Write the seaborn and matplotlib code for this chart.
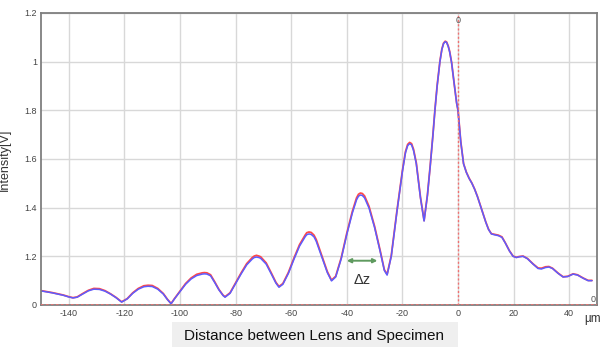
import matplotlib
matplotlib.use("Agg")
import matplotlib.pyplot as plt
import seaborn as sns
import pandas as pd

# Axial scan of the lens-to-specimen distance (µm) and the detector intensity (V)
distance_um = [
    -150, -146, -142, -140, -138.5, -137, -135, -133, -131, -129, -127, -125, -123, -121,
    -119, -117, -115, -113, -111.5, -110, -108, -106, -104.5, -103.2,
    -102, -100, -98, -96, -94, -92, -91.2, -90.3, -89, -87.5, -86, -84.5, -83.8,
    -82, -80, -78, -76, -74, -73.3, -72.5, -71.6, -71, -69, -67, -65.5, -64.4,
    -63, -61, -59, -57, -55, -54.4, -53.6, -52.8, -51.8, -51, -49, -47, -45.5,
    -44, -42, -40, -38, -36.5, -35.8, -35.1, -34.4, -33.6, -32, -30, -28, -26.5, -25.5,
    -24, -22, -20, -18.9, -18.1, -17.4, -16.7, -16, -15, -13.5, -12.2,
    -11, -10, -9, -8.3, -7.5, -6.5, -5.8, -5.2, -4.6, -4.1, -3.5, -3, -2.3, -1.5, -0.5, 0,
    1, 2, 3, 4, 5, 6, 7, 8, 9, 10, 11, 12, 13.3, 14.5, 15.8, 17, 18.5, 19.8,
    21, 22, 23.4, 25, 27, 28.8, 30, 31.5, 32.7, 34, 36, 37.8, 39.5, 41.4, 43, 45, 46.8, 48.2,
]
intensity_blue = [
    0.058, 0.050, 0.040, 0.033, 0.029, 0.032, 0.045, 0.058, 0.065, 0.064, 0.057, 0.045, 0.030, 0.012,
    0.025, 0.048, 0.065, 0.075, 0.077, 0.076, 0.065, 0.045, 0.022, 0.005,
    0.025, 0.055, 0.085, 0.107, 0.121, 0.127, 0.128, 0.127, 0.120, 0.092, 0.062, 0.039, 0.032,
    0.048, 0.088, 0.128, 0.165, 0.189, 0.195, 0.197, 0.195, 0.192, 0.168, 0.124, 0.090, 0.073,
    0.085, 0.130, 0.188, 0.242, 0.280, 0.289, 0.292, 0.290, 0.280, 0.262, 0.198, 0.133, 0.099,
    0.115, 0.190, 0.290, 0.378, 0.432, 0.447, 0.452, 0.450, 0.440, 0.398, 0.318, 0.220, 0.142, 0.123,
    0.200, 0.380, 0.548, 0.625, 0.655, 0.663, 0.658, 0.635, 0.580, 0.440, 0.345,
    0.450, 0.570, 0.700, 0.800, 0.900, 1.000, 1.050, 1.074, 1.082, 1.079, 1.062, 1.040, 0.995, 0.920, 0.830, 0.800,
    0.670, 0.580, 0.545, 0.520, 0.500, 0.475, 0.445, 0.410, 0.375, 0.340, 0.310, 0.292, 0.288, 0.285, 0.278, 0.255, 0.222, 0.200,
    0.195, 0.198, 0.200, 0.190, 0.168, 0.150, 0.148, 0.154, 0.156, 0.150, 0.130, 0.115, 0.117, 0.127, 0.123, 0.110, 0.100, 0.100,
]
intensity_red = [
    0.059, 0.051, 0.041, 0.034, 0.030, 0.033, 0.047, 0.060, 0.068, 0.067, 0.059, 0.046, 0.031, 0.013,
    0.026, 0.050, 0.068, 0.079, 0.081, 0.080, 0.068, 0.047, 0.023, 0.006,
    0.026, 0.057, 0.088, 0.111, 0.126, 0.132, 0.133, 0.132, 0.124, 0.095, 0.064, 0.040, 0.034,
    0.050, 0.091, 0.132, 0.170, 0.195, 0.201, 0.204, 0.201, 0.198, 0.173, 0.128, 0.093, 0.076,
    0.088, 0.134, 0.193, 0.248, 0.287, 0.297, 0.300, 0.298, 0.287, 0.269, 0.203, 0.137, 0.102,
    0.118, 0.194, 0.295, 0.385, 0.440, 0.455, 0.460, 0.458, 0.448, 0.405, 0.323, 0.224, 0.145, 0.126,
    0.203, 0.384, 0.552, 0.630, 0.660, 0.668, 0.663, 0.640, 0.584, 0.443, 0.347,
    0.452, 0.572, 0.702, 0.802, 0.902, 1.002, 1.052, 1.076, 1.084, 1.081, 1.064, 1.042, 0.997, 0.921, 0.831, 0.801,
    0.671, 0.581, 0.546, 0.521, 0.501, 0.476, 0.446, 0.411, 0.376, 0.341, 0.311, 0.293, 0.290, 0.287, 0.280, 0.256, 0.223, 0.201,
    0.196, 0.199, 0.201, 0.191, 0.169, 0.152, 0.151, 0.157, 0.158, 0.151, 0.131, 0.116, 0.118, 0.128, 0.124, 0.111, 0.101, 0.101,
]

x_ticks = [-140, -120, -100, -80, -60, -40, -20, 0, 20, 40]
y_ticks = [0, 0.2, 0.4, 0.6, 0.8, 1.0, 1.2]
y_tick_labels = ["0", "1.2", "1.4", "1.6", "1.8", "1", "1.2"]

scan = pd.concat([
    pd.DataFrame({"distance": distance_um, "intensity": intensity_red, "trace": "red"}),
    pd.DataFrame({"distance": distance_um, "intensity": intensity_blue, "trace": "blue"}),
], ignore_index=True)

sns.set_style("white")
plt.rcParams["font.family"] = ["Liberation Sans", "DejaVu Sans"]
narrow = ["Liberation Sans Narrow", "Liberation Sans"]

fig = plt.figure(figsize=(6.01, 3.47), dpi=100)
ax = fig.add_axes([41 / 601, 1 - 305 / 347, 556 / 601, 292 / 347])

ax.grid(True, color="#d8d8d8", linewidth=1.0)
ax.set_axisbelow(True)

sns.lineplot(data=scan[scan.trace == "red"], x="distance", y="intensity",
             color="#ff4848", linewidth=1.3, ax=ax, legend=False)
sns.lineplot(data=scan[scan.trace == "blue"], x="distance", y="intensity",
             color="#5c5cff", linewidth=1.1, ax=ax, legend=False)
for line in ax.get_lines():
    line.set_solid_joinstyle("round")
    line.set_solid_capstyle("round")

# zero reference lines
ax.axvline(0, color="#f07070", linestyle=(0, (1.5, 1.5)), linewidth=1.0, zorder=3)
ax.axhline(0, color="#f07070", linestyle=(0, (1.5, 1.5)), linewidth=1.2, zorder=3)
ax.text(0, 1.188, "0", ha="center", va="top", fontsize=6.5, color="#555555", family=narrow)
ax.text(49.6, 0.006, "0", ha="right", va="bottom", fontsize=6.5, color="#555555", family=narrow)

ax.set_xlim(-150, 50)
ax.set_ylim(0, 1.2)
ax.set_xticks(x_ticks)
ax.set_xticklabels([str(t) for t in x_ticks])
ax.set_yticks(y_ticks)
ax.set_yticklabels(y_tick_labels)
ax.tick_params(axis="both", length=0, labelsize=6.5, labelcolor="#444444", pad=3)
for lab in ax.get_xticklabels() + ax.get_yticklabels():
    lab.set_family(narrow)

for side in ["left", "top", "right", "bottom"]:
    ax.spines[side].set_visible(True)
    ax.spines[side].set_color("#7f7f7f")
    ax.spines[side].set_linewidth(1.3)

ax.set_xlabel("")
ax.set_ylabel("Intensity[V]", fontsize=9, color="#333333")
ax.yaxis.set_label_coords((11 - 41) / 556, (305 - 160) / 292)

# Δz spacing between neighbouring fringes
ax.annotate("", xy=(-29, 0.182), xytext=(-40, 0.182),
            arrowprops=dict(arrowstyle="<|-|>", color="#5f9a5f", lw=1.4,
                            mutation_scale=6, shrinkA=0, shrinkB=0))
ax.text(-34.6, 0.103, "Δz", ha="center", va="center", fontsize=10.5, color="#333333")

# x-axis title in a shaded box
fig.patches.append(plt.Rectangle((172 / 601, 0), (458 - 172) / 601, 25 / 347,
                                 transform=fig.transFigure, facecolor="#efefef",
                                 edgecolor="none", zorder=0))
fig.text(314 / 601, 1 - 336 / 347, "Distance between Lens and Specimen",
         ha="center", va="center", fontsize=11, color="#111111")
fig.text(584 / 601, 1 - 319 / 347, "µm", ha="left", va="center", fontsize=8.5,
         color="#333333")

fig.savefig("out.png", dpi=100)
